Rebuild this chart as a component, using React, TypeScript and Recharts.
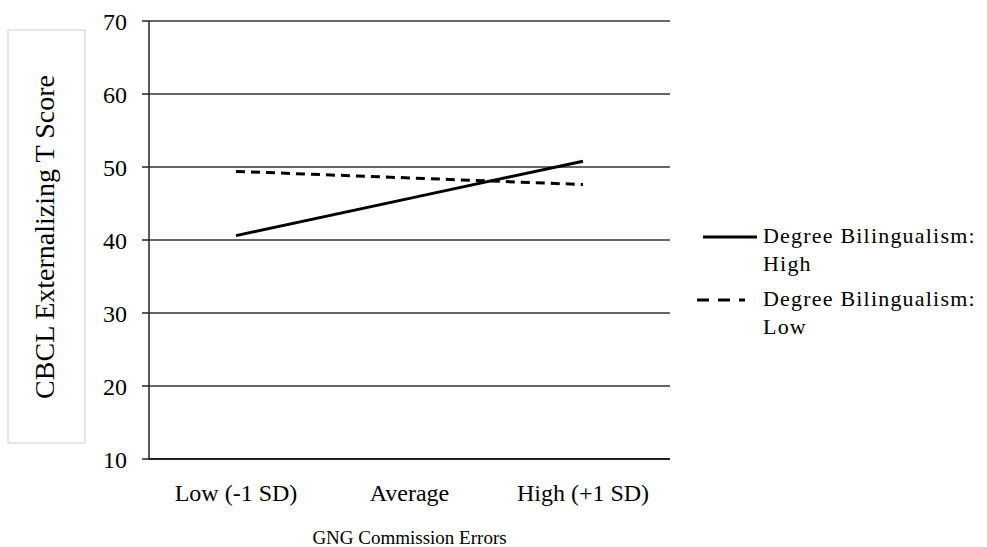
import { ComposedChart, Line, XAxis, YAxis, CartesianGrid, Legend } from 'recharts';

const categories = ['Low (-1 SD)', 'Average', 'High (+1 SD)'];
const highBilingual = [40.6, 45.7, 50.8];
const lowBilingual = [49.4, 48.5, 47.6];
const yTicks = [10, 20, 30, 40, 50, 60, 70];

const FONT = '"Liberation Serif", "Times New Roman", serif';

const data = categories.map((name, i) => ({
  name,
  high: highBilingual[i],
  low: lowBilingual[i],
}));

const legendItems = [
  { label: 'Degree Bilingualism:', sub: 'High', dash: undefined, x1: 8, x2: 62 },
  { label: 'Degree Bilingualism:', sub: 'Low', dash: '12 9', x1: 2, x2: 50 },
];

function LegendBox() {
  return (
    <div style={{ fontFamily: FONT, fontSize: 22, letterSpacing: 1.2, color: '#000', lineHeight: '28px' }}>
      {legendItems.map((item) => (
        <div key={item.sub} style={{ display: 'flex', alignItems: 'flex-start', marginBottom: 7 }}>
          <svg width={68} height={28} style={{ flexShrink: 0 }}>
            <line x1={item.x1} y1={15} x2={item.x2} y2={15} stroke="#000" strokeWidth={3} strokeDasharray={item.dash} />
          </svg>
          <div>
            <div>{item.label}</div>
            <div>{item.sub}</div>
          </div>
        </div>
      ))}
    </div>
  );
}

function YLabel() {
  return (
    <g>
      <rect x={8} y={30} width={77} height={413} fill="#fff" stroke="#d0d0d0" strokeWidth={1} />
      <text
        x={0}
        y={0}
        transform="translate(44, 237) rotate(-90)"
        textAnchor="middle"
        dominantBaseline="central"
        fontFamily={FONT}
        fontSize={28}
        fill="#000"
      >
        CBCL Externalizing T Score
      </text>
    </g>
  );
}

export default function App() {
  return (
    <div style={{ position: 'absolute', left: 0, top: 0, background: '#fff' }}>
      <ComposedChart width={987} height={547} data={data} margin={{ top: 21, right: 317, bottom: 0, left: 0 }}>
        <CartesianGrid vertical={false} stroke="#333" strokeWidth={1.5} />
        <XAxis
          dataKey="name"
          height={88}
          padding={{ left: 87, right: 87 }}
          tickLine={false}
          tickMargin={19}
          axisLine={{ stroke: '#222', strokeWidth: 2 }}
          tick={{ fill: '#000', fontFamily: FONT, fontSize: 24 }}
          label={{ value: 'GNG Commission Errors', position: 'insideBottom', offset: 3, fill: '#000', fontFamily: FONT, fontSize: 19 }}
        />
        <YAxis
          width={149}
          domain={[10, 70]}
          ticks={yTicks}
          interval={0}
          tickSize={7}
          tickMargin={15}
          axisLine={{ stroke: '#222', strokeWidth: 1.5 }}
          tickLine={{ stroke: '#222', strokeWidth: 1.5 }}
          tick={{ fill: '#000', fontFamily: FONT, fontSize: 24 }}
          label={<YLabel />}
        />
        <Legend
          layout="horizontal"
          verticalAlign="middle"
          align="center"
          content={<LegendBox />}
          wrapperStyle={{ left: 695, top: 222, width: 292 }}
        />
        <Line dataKey="high" stroke="#000" strokeWidth={3} dot={false} isAnimationActive={false} />
        <Line dataKey="low" stroke="#000" strokeWidth={3} strokeDasharray="9 6" dot={false} isAnimationActive={false} />
      </ComposedChart>
    </div>
  );
}
